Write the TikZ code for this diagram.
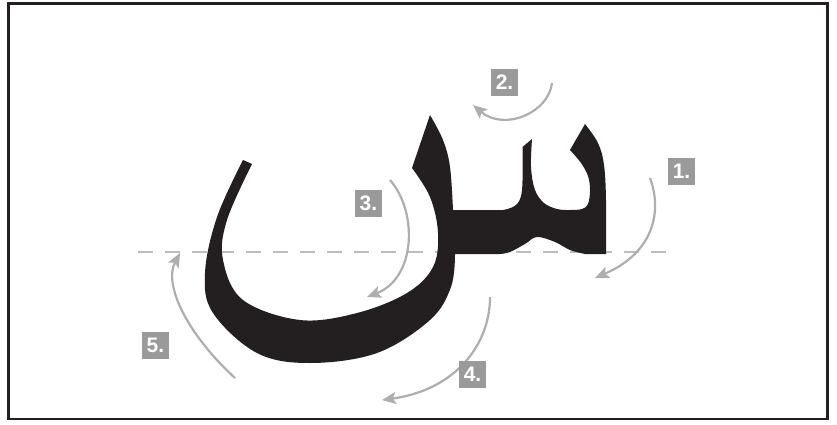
\documentclass[tikz,border=0pt]{standalone}
\usepackage{fontspec}
\setmainfont{Liberation Sans}
\usetikzlibrary{arrows.meta}
\definecolor{ink}{HTML}{231F20}
\definecolor{arrowgray}{HTML}{AEAEAE}
\definecolor{boxgray}{HTML}{9A9A9A}
\definecolor{dashgray}{HTML}{BDBDBD}
\tikzset{
  stroke/.style={draw=arrowgray, line width=2.2pt, -{Stealth[length=14pt,width=12pt,inset=3pt]}},
  numbox/.style={fill=boxgray, text=white, font=\bfseries\fontsize{21pt}{21pt}\selectfont, minimum width=27pt, minimum height=27pt, inner sep=0pt},
}
\begin{document}
\begin{tikzpicture}[x=1pt,y=-1pt]
\useasboundingbox (0,0) rectangle (837,425);
\fill[white] (0,0) rectangle (837,425);
\draw[ink, line width=2.5pt] (8.7,3.7) rectangle (827.3,419);
% baseline
\draw[dashgray, line width=1.2pt, dash pattern=on 15pt off 12pt] (138,252) -- (672,252);
% the letter seen
\fill[ink] (430,115)
  -- plot[smooth, tension=0.6] coordinates {(430,115) (443,140) (450,167) (453,210)}
  -- (503,210)
  -- plot[smooth, tension=0.6] coordinates {(503,210) (516,205) (522,190) (522.5,147)}
  -- (532,139)
  -- plot[smooth, tension=0.6] coordinates {(532,139) (531,167) (535,190) (544,203) (557,209) (570,210) (582,209) (588,204) (590,190) (588,176) (581,163) (570,150)}
  -- (585,124)
  -- plot[smooth, tension=0.6] coordinates {(585,124) (598,143) (604,165) (606,200) (606,254)}
  -- (585,254)
  -- plot[smooth, tension=0.6] coordinates {(585,254) (570,250) (555,242) (537,237) (525,244) (510,252) (500,254)}
  -- (455,254)
  -- plot[smooth, tension=0.6] coordinates {(455,254) (451,287) (430,320) (377,353) (310,363) (257,353) (213,313) (205,273) (217,217) (243,160)}
  -- (252,164)
  -- plot[smooth, tension=0.6] coordinates {(252,164) (227,220) (223,260) (243,300) (300,320) (357,313) (407,293) (433,267) (438,233) (430,197) (412,168)}
  -- cycle;
% stroke order arrows
\coordinate (s1) at (650,178); \coordinate (e1) at (595,278);
\coordinate (s2) at (552,83);  \coordinate (e2) at (473,105);
\coordinate (s3) at (390,180); \coordinate (e3) at (367,297);
\coordinate (s4) at (490,297); \coordinate (e4) at (382,400);
\coordinate (s5) at (235,378); \coordinate (e5) at (180,253);
\draw[stroke] (s1) .. controls (662,210) and (655,252) .. (e1);
\draw[stroke] (s2) .. controls (549,112) and (505,132) .. (e2);
\draw[stroke] (s3) .. controls (418,212) and (416,278) .. (e3);
\draw[stroke] (s4) .. controls (490,345) and (455,390) .. (e4);
\draw[stroke] (s5) .. controls (188,335) and (163,285) .. (e5);
% labels
\node[numbox] (n1) at (681.5,171.5) {1.};
\node[numbox] (n2) at (504.5,82.5) {2.};
\node[numbox] (n3) at (368.5,203.5) {3.};
\node[numbox] (n4) at (472.5,374.5) {4.};
\node[numbox] (n5) at (155.5,345.5) {5.};
\end{tikzpicture}
\end{document}
